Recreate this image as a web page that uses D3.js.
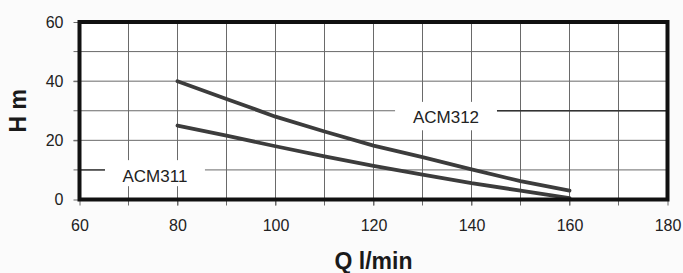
<!DOCTYPE html>
<html>
<head>
<meta charset="utf-8">
<script src="https://cdn.jsdelivr.net/npm/d3@7"></script>
<style>
  body { margin: 0; background: #fbfbfb; font-family: "Liberation Sans", Arial, sans-serif; }
  .tick text { font-size: 16px; fill: #222; }
  .grid line { stroke: #6a6a6a; stroke-width: 1; }
  .curve { fill: none; stroke: #3c3c3c; stroke-width: 3.8; stroke-linecap: round; }
  .lbl { font-size: 17px; fill: #222; }
  .title { font-size: 23px; font-weight: bold; fill: #1a1a1a; }
</style>
</head>
<body>
<script>
// flow Q (l/min) and head H (m)
var flow = [80, 90, 100, 110, 120, 130, 140, 150, 160];
var acm312 = [40, 34, 28, 23, 18.2, 14.3, 10.2, 6.2, 3];
var acm311 = [25, 21.6, 18, 14.6, 11.4, 8.4, 5.5, 3, 0.5];

var xTicks = [60, 80, 100, 120, 140, 160, 180];
var yTicks = [0, 20, 40, 60];

var W = 683, H = 273;

var svg = d3.select("body").append("svg")
          .attr("width", W)
          .attr("height", H);

var x = d3.scaleLinear().domain([60, 180]).range([79.5, 667.5]);
var y = d3.scaleLinear().domain([0, 60]).range([199.5, 22]);

// plot background
svg.append("rect")
    .attr("x", x(60)).attr("y", y(60))
    .attr("width", x(180) - x(60)).attr("height", y(0) - y(60))
    .attr("fill", "#fff");

// grid every 10 units both ways
var grid = svg.append("g").attr("class", "grid");
grid.selectAll(".v")
    .data(d3.range(70, 180, 10))
    .enter().append("line")
    .attr("x1", function(d) {return x(d)}).attr("x2", function(d) {return x(d)})
    .attr("y1", y(60)).attr("y2", y(0) + 6); //runs past the frame = tick mark
grid.selectAll(".h")
    .data(d3.range(10, 60, 10))
    .enter().append("line")
    .attr("x1", x(60) - 6).attr("x2", x(180))
    .attr("y1", function(d) {return y(d)}).attr("y2", function(d) {return y(d)});

// axes: only labels, grid draws the ticks
svg.append("g")
    .attr("transform", "translate(0," + y(0) + ")")
    .call(d3.axisBottom(x).tickValues(xTicks).tickSize(6).tickPadding(14))
    .call(function(g) {g.select(".domain").remove()})
    .call(function(g) {g.selectAll(".tick line").attr("stroke", "#6a6a6a")});

svg.append("g")
    .attr("transform", "translate(" + x(60) + ",0)")
    .call(d3.axisLeft(y).tickValues(yTicks).tickSize(6).tickPadding(10))
    .call(function(g) {g.select(".domain").remove()})
    .call(function(g) {g.selectAll(".tick line").attr("stroke", "#6a6a6a")});

// curves
var line = d3.line()
    .x(function(d) {return x(d[0])})
    .y(function(d) {return y(d[1])});

svg.append("path").attr("class", "curve")
    .attr("d", line(d3.zip(flow, acm312)));
svg.append("path").attr("class", "curve")
    .attr("d", line(d3.zip(flow, acm311)));

// series labels sit in white boxes over the grid, with a leader along a gridline
var labels = [
  {name: "ACM312", x0: 124.4, x1: 145.2, y0: 23.4, y1: 33, lead: [145.2, 180], ly: 30},
  {name: "ACM311", x0: 65.2, x1: 85.6, y0: 4.5, y1: 13.3, lead: [60, 65.2], ly: 10}
];

labels.forEach(function(l) {
  svg.append("rect")
      .attr("x", x(l.x0)).attr("y", y(l.y1))
      .attr("width", x(l.x1) - x(l.x0)).attr("height", y(l.y0) - y(l.y1))
      .attr("fill", "#fff");
  svg.append("line")
      .attr("x1", x(l.lead[0])).attr("x2", x(l.lead[1]))
      .attr("y1", y(l.ly)).attr("y2", y(l.ly))
      .attr("stroke", "#333").attr("stroke-width", 1.3);
  svg.append("text").attr("class", "lbl")
      .attr("x", (x(l.x0) + x(l.x1)) / 2)
      .attr("y", y(l.ly) + 12)
      .attr("text-anchor", "middle")
      .text(l.name);
});

// thick frame
svg.append("rect")
    .attr("x", x(60)).attr("y", y(60))
    .attr("width", x(180) - x(60)).attr("height", y(0) - y(60))
    .attr("fill", "none").attr("stroke", "#111").attr("stroke-width", 4);

// axis titles
svg.append("text").attr("class", "title")
    .attr("x", (x(60) + x(180)) / 2).attr("y", 269)
    .attr("text-anchor", "middle")
    .text("Q l/min");

svg.append("text").attr("class", "title")
    .attr("transform", "translate(26," + ((y(0) + y(60)) / 2) + ") rotate(-90)")
    .attr("text-anchor", "middle")
    .text("H m");
</script>
</body>
</html>
